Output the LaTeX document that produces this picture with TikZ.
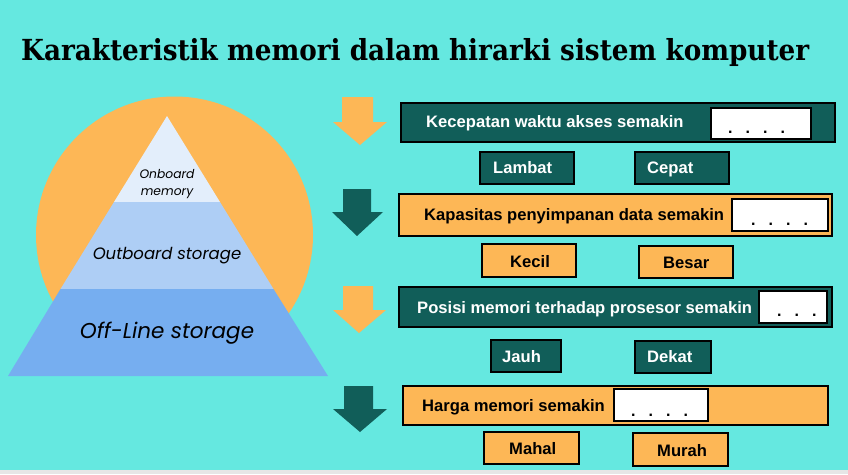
\documentclass[tikz,border=0pt]{standalone}
\usepackage{fontspec}
\usepackage{graphicx}
\setmainfont{Liberation Sans}
\newfontfamily\titlefont{DejaVu Serif}
\newfontfamily\pyrfont{Poppins}
\definecolor{bgcyan}{RGB}{101,232,224}
\definecolor{darkteal}{RGB}{17,94,89}
\definecolor{boxorange}{RGB}{253,183,86}
\definecolor{pyrtop}{RGB}{227,238,251}
\definecolor{pyrmid}{RGB}{174,206,245}
\definecolor{pyrbot}{RGB}{118,174,240}
\definecolor{stripgray}{RGB}{230,230,230}

\begin{document}
\begin{tikzpicture}[x=1pt, y=-1pt,
  tealrect/.style={draw=black, line width=1.8pt, fill=darkteal, inner sep=0pt},
  orangerect/.style={draw=black, line width=1.8pt, fill=boxorange, inner sep=0pt},
  answerbox/.style={draw=black, line width=1.8pt, fill=white, inner sep=0pt},
  lighttext/.style={anchor=base west, inner sep=0pt, text=white, font=\bfseries\fontsize{16.6}{19}\selectfont},
  darktext/.style={anchor=base west, inner sep=0pt, text=black, font=\bfseries\fontsize{16.6}{19}\selectfont},
  dots/.style={anchor=base west, inner sep=0pt, font=\bfseries\fontsize{16}{19}\selectfont},
  pyrtext/.style={anchor=base, inner sep=0pt, text=black, font=\pyrfont\itshape}]

% Background
\fill[bgcyan] (0,0) rectangle (848,474);
\fill[stripgray] (0,470) rectangle (848,474);
\useasboundingbox (0,0) rectangle (848,474);

% Title
\node[anchor=base west, inner sep=0pt] (title) at (21,60)
  {\resizebox{788pt}{\height}{\titlefont\bfseries\fontsize{29}{32}\selectfont Karakteristik memori dalam hirarki sistem komputer}};

% Sun behind the pyramid
\fill[boxorange] (174.5,235) circle (138.5);

% Pyramid layers
\fill[pyrtop] (167,116) -- (220,202) -- (114,202) -- cycle;
\fill[pyrmid] (114,202) -- (220,202) -- (273.5,289) -- (60.5,289) -- cycle;
\fill[pyrbot] (60.5,289) -- (273.5,289) -- (328,376) -- (8,376) -- cycle;
\node[pyrtext, font=\pyrfont\itshape\fontsize{12.3}{14}\selectfont] (onboard) at (167,178) {Onboard};
\node[pyrtext, font=\pyrfont\itshape\fontsize{12.3}{14}\selectfont] (memory) at (167,195) {memory};
\node[pyrtext, font=\pyrfont\itshape\fontsize{16.5}{19}\selectfont] (outboard) at (167,259) {Outboard storage};
\node[pyrtext, font=\pyrfont\itshape\fontsize{21.5}{25}\selectfont] (offline) at (167,338) {Off-Line storage};

% Block arrows
\fill[boxorange] (342,97) -- (373,97) -- (373,122) -- (387,122) -- (360,145) -- (333,122) -- (342,122) -- cycle;
\fill[darkteal] (343,189) -- (371,189) -- (371,212) -- (383,212) -- (357,236) -- (332,212) -- (343,212) -- cycle;
\fill[boxorange] (343,286) -- (373,286) -- (373,310) -- (386,310) -- (359,333) -- (333,310) -- (343,310) -- cycle;
\fill[darkteal] (344,386) -- (373,386) -- (373,409) -- (387,409) -- (360,432) -- (333,409) -- (344,409) -- cycle;

% Row 1: speed
\node[tealrect, minimum width=434pt, minimum height=39pt] (speed) at (618,122.5) {};
\node[lighttext] (speedtxt) at (426,127) {Kecepatan waktu akses semakin};
\node[answerbox, minimum width=100pt, minimum height=31pt] (speedans) at (761,123.5) {};
\node[dots] (speeddots) at (728,133) {.\hspace{13pt}.\hspace{13pt}.\hspace{13pt}.};
\node[tealrect, minimum width=94pt, minimum height=32pt] (slow) at (527,168) {};
\node[lighttext] (slowtxt) at (493,173) {Lambat};
\node[tealrect, minimum width=94pt, minimum height=32pt] (fast) at (682,168) {};
\node[lighttext] (fasttxt) at (647,173) {Cepat};

% Row 2: capacity
\node[orangerect, minimum width=433pt, minimum height=42pt] (capacity) at (615.5,215) {};
\node[darktext] (capacitytxt) at (424,220) {Kapasitas penyimpanan data semakin};
\node[answerbox, minimum width=96pt, minimum height=32pt] (capacityans) at (780,215) {};
\node[dots] (capacitydots) at (751,225) {.\hspace{13pt}.\hspace{13pt}.\hspace{13pt}.};
\node[orangerect, minimum width=94pt, minimum height=33pt] (small) at (529,260.5) {};
\node[darktext] (smalltxt) at (510,267) {Kecil};
\node[orangerect, minimum width=94pt, minimum height=32pt] (large) at (686,262) {};
\node[darktext] (largetxt) at (663,268) {Besar};

% Row 3: position
\node[tealrect, minimum width=433pt, minimum height=40pt] (position) at (615.5,307) {};
\node[lighttext] (positiontxt) at (417,313) {Posisi memori terhadap prosesor semakin};
\node[answerbox, minimum width=68pt, minimum height=32pt] (positionans) at (793,307) {};
\node[dots] (positiondots) at (777,316) {.\hspace{13pt}.\hspace{13pt}.};
\node[tealrect, minimum width=70pt, minimum height=32pt] (far) at (526,356) {};
\node[lighttext] (fartxt) at (502,362) {Jauh};
\node[tealrect, minimum width=76pt, minimum height=32pt] (near) at (673,357) {};
\node[lighttext] (neartxt) at (647,362) {Dekat};

% Row 4: price
\node[orangerect, minimum width=425pt, minimum height=39pt] (price) at (615.5,405.5) {};
\node[darktext] (pricetxt) at (422,411) {Harga memori semakin};
\node[answerbox, minimum width=94pt, minimum height=32pt] (priceans) at (661,405) {};
\node[dots] (pricedots) at (631,416) {.\hspace{13pt}.\hspace{13pt}.\hspace{13pt}.};
\node[orangerect, minimum width=95pt, minimum height=32pt] (expensive) at (531.5,448) {};
\node[darktext] (expensivetxt) at (509,454) {Mahal};
\node[orangerect, minimum width=95pt, minimum height=33pt] (cheap) at (680.5,449.5) {};
\node[darktext] (cheaptxt) at (657,456) {Murah};

\end{tikzpicture}
\end{document}
